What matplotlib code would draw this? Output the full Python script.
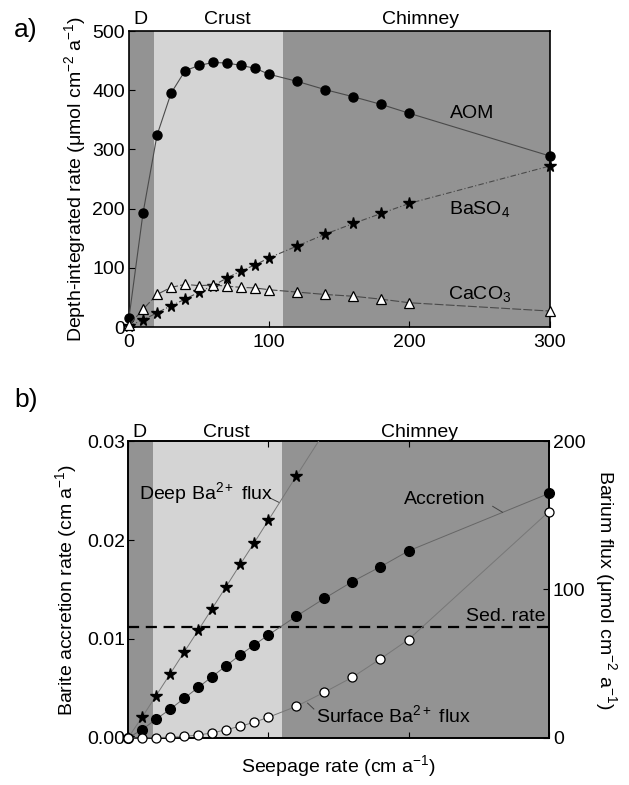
import matplotlib
matplotlib.use("Agg")
import matplotlib.pyplot as plt
import numpy as np

plt.rcParams['font.family'] = ['Liberation Sans', 'DejaVu Sans']
plt.rcParams['mathtext.fontset'] = 'custom'
plt.rcParams['mathtext.rm'] = 'Liberation Sans'
plt.rcParams['mathtext.it'] = 'Liberation Sans:italic'
plt.rcParams['mathtext.bf'] = 'Liberation Sans:bold'

# ---------------- data: panel a ----------------
seep_a = [0, 10, 20, 30, 40, 50, 60, 70, 80, 90, 100, 120, 140, 160, 180, 200, 300]
aom = [15, 192, 324, 395, 433, 442, 447, 446, 442, 437, 427, 415, 401, 389, 376, 361, 289]
baso4 = [2, 12, 24, 36, 47, 59, 70, 83, 95, 105, 117, 137, 157, 175, 192, 209, 272]
caco3 = [3, 30, 55, 67, 72, 70, 71, 69, 67, 66, 63, 59, 55, 52, 47, 41, 27]

# ---------------- data: panel b ----------------
seep_b = [0, 10, 20, 30, 40, 50, 60, 70, 80, 90, 100, 120, 140, 160, 180, 200, 300]
accretion = [0.0, 0.00084, 0.0019, 0.0029, 0.0040, 0.0051, 0.0062, 0.0073, 0.0084,
             0.0094, 0.0104, 0.0123, 0.0141, 0.0158, 0.0173, 0.0189, 0.0247]
surface_flux = [0, 0, 0.3, 0.5, 1.0, 2.0, 3.4, 5.6, 7.9, 10.6, 13.9, 21.3, 30.8,
                40.9, 53.3, 66.3, 152.4]
seep_deep = [0, 10, 20, 30, 40, 50, 60, 70, 80, 90, 100, 120, 140]
deep_flux = [0, 13.9, 28.5, 43.1, 57.8, 72.4, 87.2, 102, 116.9, 131.5, 146.5, 176.4, 206]
sed_rate = 0.01122

regions = [(0, 18, '#939393'), (18, 110, '#d4d4d4'), (110, 300, '#939393')]
region_labels = [('D', 8), ('Crust', 70), ('Chimney', 208)]

fig = plt.figure(figsize=(6.29, 7.85), dpi=100)

FS = 14
line_col = '#4a4a4a'

# ---------------- panel a ----------------
ax1 = fig.add_axes([0.205, 0.5834, 0.669, 0.377])
for x0, x1, c in regions:
    ax1.axvspan(x0, x1, color=c, lw=0, zorder=0)
ax1.plot(seep_a, aom, '-', color=line_col, lw=0.8, marker='o', ms=6.5,
         mfc='black', mec='black', zorder=3, clip_on=False)
ax1.plot(seep_a, baso4, color=line_col, lw=0.8, ls=(0, (5, 2, 1, 2)), marker='*',
         ms=8.5, mfc='black', mec='black', zorder=3, clip_on=False)
ax1.plot(seep_a, caco3, color=line_col, lw=0.8, ls=(0, (8, 2)), marker='^', ms=7.5,
         mfc='white', mec='black', mew=0.9, zorder=4, clip_on=False)
ax1.set_xlim(0, 300)
ax1.set_ylim(0, 500)
ax1.set_xticks([0, 100, 200, 300])
ax1.set_yticks([0, 100, 200, 300, 400, 500])
ax1.tick_params(direction='in', labelsize=FS, length=4, top=False, right=False)
ax1.tick_params(axis='x', pad=5)
ax1.tick_params(axis='y', pad=3)
ax1.set_ylabel('Depth-integrated rate (μmol cm$^{-2}$ a$^{-1}$)', fontsize=FS, labelpad=3)
ax1.text(245, 360, 'AOM', fontsize=FS, ha='center', va='center')
ax1.text(250, 200, 'BaSO$_4$', fontsize=FS, ha='center', va='center')
ax1.text(250, 55, 'CaCO$_3$', fontsize=FS, ha='center', va='center')
for lab, xp in region_labels:
    ax1.text(xp, 1.01, lab, transform=ax1.get_xaxis_transform(), fontsize=FS,
             ha='center', va='bottom')
fig.text(0.022, 0.962, 'a)', fontsize=19, ha='left', va='center')
for s in ax1.spines.values():
    s.set_linewidth(1.2)

# ---------------- panel b ----------------
ax2 = fig.add_axes([0.2035, 0.0599, 0.669, 0.3783])
for x0, x1, c in regions:
    ax2.axvspan(x0, x1, color=c, lw=0, zorder=0)
ax2.plot(seep_b, accretion, '-', color='#666666', lw=0.7, marker='o', ms=7,
         mfc='black', mec='black', zorder=3, clip_on=False)
ax2.axhline(sed_rate, color='black', lw=1.6, ls=(0, (5, 3)), zorder=2)
ax2.set_xlim(0, 300)
ax2.set_ylim(0, 0.03)
ax2.set_xticks([0, 100, 200, 300])
ax2.set_xticklabels([])
ax2.set_yticks([0, 0.01, 0.02, 0.03])
ax2.set_yticklabels(['0.00', '0.01', '0.02', '0.03'])
ax2.tick_params(direction='in', labelsize=FS, length=4, top=True, right=False, pad=2)
ax2.set_ylabel('Barite accretion rate (cm a$^{-1}$)', fontsize=FS, labelpad=6)
ax2.set_xlabel('Seepage rate (cm a$^{-1}$)', fontsize=FS, labelpad=9)

ax3 = ax2.twinx()
ax3.plot(seep_deep, deep_flux, '-', color='#777777', lw=0.7, marker='*', ms=8.5,
         mfc='black', mec='black', zorder=3)
ax3.plot(seep_b, surface_flux, '-', color='#777777', lw=0.7, marker='o', ms=6.5,
         mfc='white', mec='black', mew=0.9, zorder=3, clip_on=False)
ax3.set_ylim(0, 200)
ax3.set_yticks([0, 100, 200])
ax3.tick_params(direction='in', labelsize=FS, length=4, pad=3)
ax3.set_ylabel('Barium flux (μmol cm$^{-2}$ a$^{-1}$)', fontsize=FS, rotation=270,
               labelpad=24)

ax3.text(7.7, 165, 'Deep Ba$^{2+}$ flux', fontsize=FS, ha='left', va='center')
ax3.plot([101.5, 108], [161.5, 158.5], color='#444444', lw=0.7)
ax3.text(197, 160.5, 'Accretion', fontsize=FS, ha='left', va='center')
ax3.plot([260, 267], [156, 152], color='#444444', lw=0.7)
ax3.text(134, 15.7, 'Surface Ba$^{2+}$ flux', fontsize=FS, ha='left', va='center')
ax3.plot([132.5, 128], [19.5, 23.5], color='#444444', lw=0.7)
ax2.text(298, 0.0114, 'Sed. rate', fontsize=FS, ha='right', va='bottom')

for lab, xp in region_labels:
    ax2.text(xp, 1.0, lab, transform=ax2.get_xaxis_transform(), fontsize=FS,
             ha='center', va='bottom')
fig.text(0.022, 0.49, 'b)', fontsize=19, ha='left', va='center')
for a in (ax2, ax3):
    for s in a.spines.values():
        s.set_linewidth(1.2)

fig.savefig('out.png', dpi=100)
